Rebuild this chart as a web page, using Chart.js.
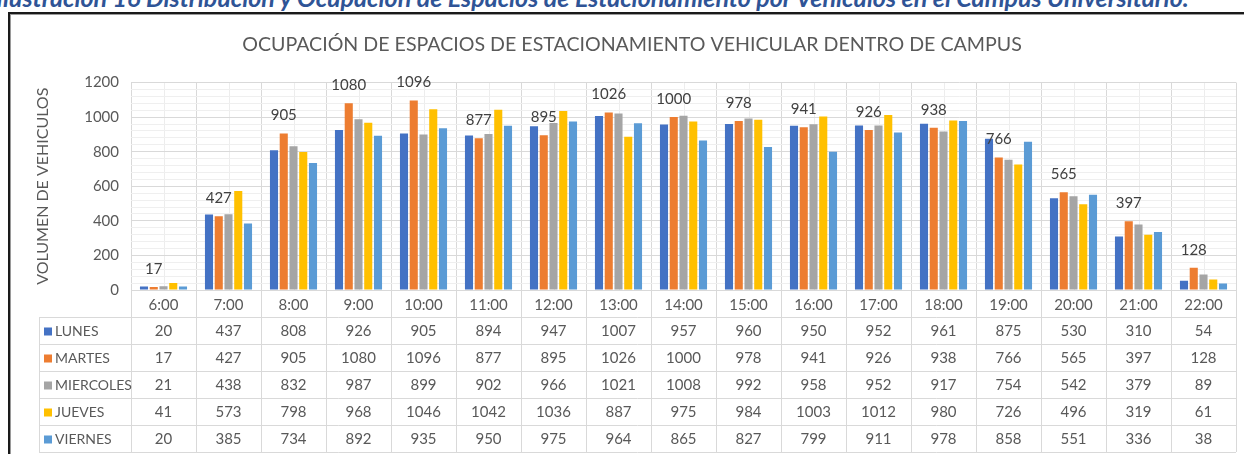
<!DOCTYPE html>
<html>
<head>
<meta charset="utf-8">
<script src="https://cdn.jsdelivr.net/npm/chart.js@4"></script>
<style>
  body { margin: 0; width: 1244px; height: 454px; overflow: hidden; background: #fff; position: relative; }
  #caption { position: absolute; left: -4px; top: -18px; font: italic bold 25px Lato, sans-serif; color: #2F5496; white-space: nowrap; }
  #frame { position: absolute; left: 8px; top: 12px; width: 1260px; height: 460px; border-top: 2px solid #1a1a1a; border-left: 2px solid #1a1a1a; box-shadow: inset 1px 1px 0 #9a9a9a; background: transparent; }
  #wrap { position: absolute; left: 0; top: 0; width: 1244px; height: 454px; }
</style>
</head>
<body>
<div id="caption">Ilustración 16 Distribución y Ocupación de Espacios de Estacionamiento por Vehículos en el Campus Universitario.</div>
<div id="frame"></div>
<div id="wrap"><canvas id="parking_chart"></canvas></div>
<script>
var hours = ['6:00','7:00','8:00','9:00','10:00','11:00','12:00','13:00','14:00','15:00','16:00','17:00','18:00','19:00','20:00','21:00','22:00'];
var lunes     = [20, 437, 808, 926, 905, 894, 947, 1007, 957, 960, 950, 952, 961, 875, 530, 310, 54];
var martes    = [17, 427, 905, 1080, 1096, 877, 895, 1026, 1000, 978, 941, 926, 938, 766, 565, 397, 128];
var miercoles = [21, 438, 832, 987, 899, 902, 966, 1021, 1008, 992, 958, 952, 917, 754, 542, 379, 89];
var jueves    = [41, 573, 798, 968, 1046, 1042, 1036, 887, 975, 984, 1003, 1012, 980, 726, 496, 319, 61];
var viernes   = [20, 385, 734, 892, 935, 950, 975, 964, 865, 827, 799, 911, 978, 858, 551, 336, 38];
var dayNames  = ['LUNES', 'MARTES', 'MIERCOLES', 'JUEVES', 'VIERNES'];
var dayColors = ['#4472C4', '#ED7D31', '#A5A5A5', '#FFC000', '#5B9BD5'];

var FONT = 'Lato, sans-serif';
var TXT = '#595959';
var rowH = 27;

// faint line in the middle of every hour
var minorCols = {
    id: 'minorCols',
    beforeDraw: function (chart) {
        var c = chart.ctx, a = chart.chartArea, x = chart.scales.x;
        c.save();
        c.strokeStyle = '#EDEDED';
        c.lineWidth = 1;
        for (var i = 0; i < hours.length; i++) {
            var px = Math.round(x.getPixelForValue(i)) + 0.5;
            c.beginPath(); c.moveTo(px, a.top); c.lineTo(px, a.bottom); c.stroke();
        }
        c.restore();
    }
};

// only the MARTES values get a label
var martesLabels = {
    id: 'martesLabels',
    afterDatasetsDraw: function (chart) {
        var c = chart.ctx, meta = chart.getDatasetMeta(1);
        c.save();
        c.font = '15px ' + FONT;
        c.fillStyle = '#404040';
        c.textAlign = 'center';
        c.textBaseline = 'middle';
        meta.data.forEach(function (bar, i) {
            c.fillText(String(martes[i]), bar.x, bar.y - 18);
        });
        c.restore();
    }
};

// data table under the axis
var dataTable = {
    id: 'dataTable',
    afterDraw: function (chart) {
        var c = chart.ctx, a = chart.chartArea, x = chart.scales.x;
        var cw = (a.right - a.left) / hours.length;
        var top = a.bottom + rowH;
        var bottom = top + rowH * dayNames.length;
        var left = 39;
        var series = chart.data.datasets;
        c.save();
        c.strokeStyle = '#D9D9D9';
        c.lineWidth = 1;
        for (var i = 0; i <= hours.length; i++) {
            var px = Math.round(x.getPixelForValue(0) - cw / 2 + i * cw) + 0.5;
            c.beginPath(); c.moveTo(px, a.bottom); c.lineTo(px, bottom); c.stroke();
        }
        c.beginPath(); c.moveTo(left + 0.5, top); c.lineTo(left + 0.5, bottom); c.stroke();
        for (var r = 0; r <= dayNames.length; r++) {
            var py = Math.round(top + r * rowH) + 0.5;
            c.beginPath(); c.moveTo(left, py); c.lineTo(a.right, py); c.stroke();
        }
        c.textBaseline = 'middle';
        series.forEach(function (ds, s) {
            var cy = top + s * rowH + rowH / 2 + 1;
            c.fillStyle = ds.backgroundColor;
            c.fillRect(44, cy - 4, 8, 8);
            c.fillStyle = TXT;
            c.font = '14px ' + FONT;
            c.textAlign = 'left';
            c.fillText(ds.label, 55, cy);
            c.font = '15px ' + FONT;
            c.textAlign = 'center';
            ds.data.forEach(function (v, i) {
                c.fillText(String(v), x.getPixelForValue(i), cy);
            });
        });
        c.restore();
    }
};

var days = [lunes, martes, miercoles, jueves, viernes];
var datasets = days.map(function (d, k) {
    return {
        label: dayNames[k],
        data: d,
        backgroundColor: dayColors[k],
        borderWidth: 0,
        categoryPercentage: 0.75,
        barPercentage: 0.83
    };
});

var ctx = document.getElementById('parking_chart');
var myChart = new Chart(ctx, {
    type: 'bar',
    data: { labels: hours, datasets: datasets },
    options: {
        responsive: true,
        maintainAspectRatio: false,
        animation: false,
        layout: { padding: { left: 28, right: 8, top: 0, bottom: 0 } },
        plugins: {
            legend: { display: false },
            tooltip: { enabled: false },
            title: {
                display: true,
                text: 'OCUPACIÓN DE ESPACIOS DE ESTACIONAMIENTO VEHICULAR DENTRO DE CAMPUS',
                color: TXT,
                font: { family: FONT, size: 19.6, weight: 'normal' },
                padding: { top: 33, bottom: 26 }
            }
        },
        scales: {
            x: {
                grid: { offset: true, color: '#D9D9D9', drawTicks: false },
                border: { color: '#D9D9D9' },
                ticks: { color: TXT, font: { family: FONT, size: 15 }, padding: 6, maxRotation: 0 },
                afterFit: function (scale) { scale.height = 164; }
            },
            y: {
                min: 0,
                max: 1200,
                ticks: {
                    stepSize: 40,
                    autoSkip: false,
                    color: TXT,
                    padding: 12,
                    font: { family: FONT, size: 15 },
                    callback: function (v) { return v % 200 === 0 ? v : ''; }
                },
                grid: {
                    drawTicks: false,
                    color: function (c) { return c.tick && c.tick.value % 200 === 0 ? '#D9D9D9' : '#EFEFEF'; }
                },
                border: { display: false },
                title: {
                    display: true,
                    text: 'VOLUMEN DE VEHICULOS',
                    color: TXT,
                    font: { family: FONT, size: 16 },
                    padding: { top: 5, bottom: 0 }
                },
                afterFit: function (scale) { scale.width = 103; }
            }
        }
    },
    plugins: [minorCols, martesLabels, dataTable]
});
</script>
</body>
</html>
